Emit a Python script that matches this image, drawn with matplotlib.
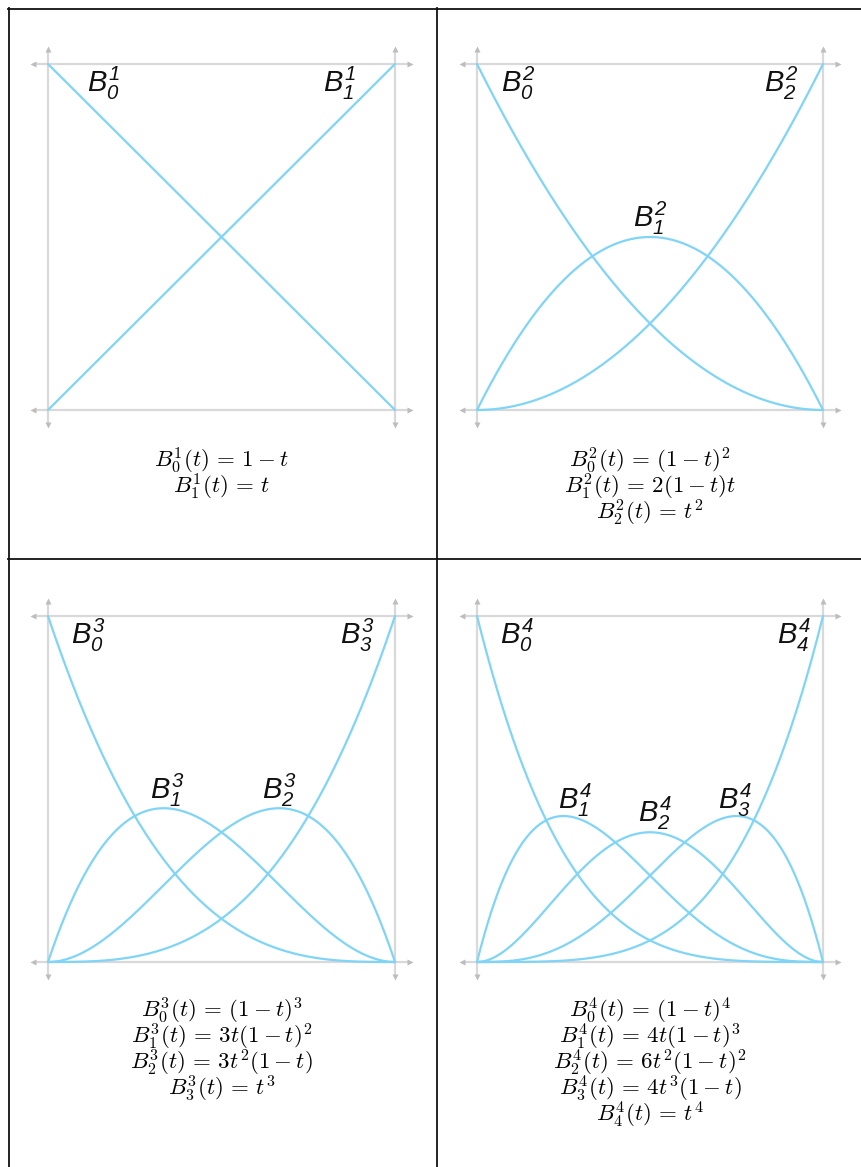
import numpy as np
import matplotlib.pyplot as plt
from matplotlib.lines import Line2D
from math import comb

plt.rcParams['mathtext.fontset'] = 'custom'
plt.rcParams['mathtext.rm'] = 'Liberation Sans:italic'
plt.rcParams['mathtext.it'] = 'Liberation Sans:italic'
plt.rcParams['mathtext.bf'] = 'Liberation Sans:italic:bold'

# Bernstein basis of degree n: B_i^n(t) = C(n,i) t^i (1-t)^(n-i)
degrees = [1, 2, 3, 4]

# label anchor points (t, height) for each basis function, per degree
label_t = [
    [0.16, 0.84],
    [0.12, 0.50, 0.88],
    [0.115, 0.345, 0.665, 0.89],
    [0.115, 0.283, 0.514, 0.746, 0.915],
]
label_h = [
    [0.945, 0.945],
    [0.945, 0.555, 0.945],
    [0.945, 0.497, 0.497, 0.945],
    [0.945, 0.468, 0.43, 0.468, 0.945],
]

formulas = [
    [r"$B_0^1(t)\,=\,1 - t$", r"$B_1^1(t)\,=\,t$"],
    [r"$B_0^2(t)\,=\,(1 - t)^2$", r"$B_1^2(t)\,=\,2(1 - t)t$", r"$B_2^2(t)\,=\,t^2$"],
    [r"$B_0^3(t)\,=\,(1 - t)^3$", r"$B_1^3(t)\,=\,3t(1 - t)^2$",
     r"$B_2^3(t)\,=\,3t^2(1 - t)$", r"$B_3^3(t)\,=\,t^3$"],
    [r"$B_0^4(t)\,=\,(1 - t)^4$", r"$B_1^4(t)\,=\,4t(1 - t)^3$",
     r"$B_2^4(t)\,=\,6t^2(1 - t)^2$", r"$B_3^4(t)\,=\,4t^3(1 - t)$",
     r"$B_4^4(t)\,=\,t^4$"],
]

W, H = 861, 1167
curve_color = "#80d4f6"
axis_color = "#d9d9d9"
arrow_color = "#bdbdbd"

fig = plt.figure(figsize=(W / 100, H / 100), dpi=100)

# pixel boxes of the plotting squares (left, right, top, bottom)
boxes = [(48, 395, 64, 410), (477, 823, 64, 410),
         (48, 395, 616, 962), (477, 823, 616, 962)]
formula_top = [446, 446, 996, 996]

ext = 15.0  # axis overhang in pixels
t = np.linspace(0, 1, 400)

for k, n in enumerate(degrees):
    l, r, top, bot = boxes[k]
    pw = r - l
    ph = bot - top
    dx = ext / pw
    dy = ext / ph
    ax = fig.add_axes([(l - ext) / W, 1 - (bot + ext) / H,
                       (pw + 2 * ext) / W, (ph + 2 * ext) / H])
    ax.set_xlim(-dx, 1 + dx)
    ax.set_ylim(-dy, 1 + dy)
    ax.axis("off")

    # guide lines at 0 and 1 with little arrowheads at both ends
    for v in (0, 1):
        ax.plot([-dx, 1 + dx], [v, v], color=axis_color, lw=1.6, zorder=1)
        ax.plot([v, v], [-dy, 1 + dy], color=axis_color, lw=1.6, zorder=1)
        ax.plot([-dx], [v], marker="<", ms=4.5, color=arrow_color, mec="none", zorder=1, clip_on=False)
        ax.plot([1 + dx], [v], marker=">", ms=4.5, color=arrow_color, mec="none", zorder=1, clip_on=False)
        ax.plot([v], [-dy], marker="v", ms=4.5, color=arrow_color, mec="none", zorder=1, clip_on=False)
        ax.plot([v], [1 + dy], marker="^", ms=4.5, color=arrow_color, mec="none", zorder=1, clip_on=False)

    for i in range(n + 1):
        b = comb(n, i) * t ** i * (1 - t) ** (n - i)
        ax.plot(t, b, color=curve_color, lw=1.6, zorder=2, solid_capstyle="round")
        ax.text(label_t[k][i], label_h[k][i], r"$B_{%d}^{%d}$" % (i, n),
                fontsize=21, ha="center", va="center", color="#111111",
                math_fontfamily="custom", zorder=3)

    # formulas stacked as one centred block under the square
    cx = (l + r) / 2
    fig.text(cx / W, 1 - formula_top[k] / H, "\n".join(formulas[k]),
             fontsize=16.5, ha="center", va="top", multialignment="center",
             linespacing=0.8, color="#000000", math_fontfamily="cm")

# table grid
def hline(y, x0, x1):
    fig.add_artist(Line2D([x0 / W, x1 / W], [1 - y / H, 1 - y / H], color="#111111", lw=1.3))

def vline(x, y0, y1):
    fig.add_artist(Line2D([x / W, x / W], [1 - y0 / H, 1 - y1 / H], color="#111111", lw=1.3))

hline(8.5, 8, W)
hline(558.5, 8, W)
vline(8.5, 8, H)
vline(436.5, 8, H)

fig.savefig("out.png", dpi=100)
